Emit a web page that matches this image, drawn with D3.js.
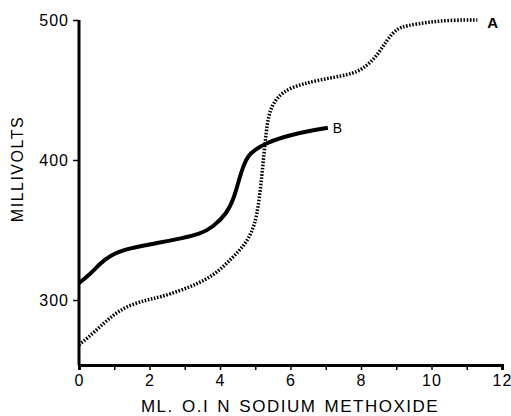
<!DOCTYPE html>
<html>
<head>
<meta charset="UTF-8">
<script src="https://cdn.jsdelivr.net/npm/d3@7"></script>
<style>
body {margin: 0; background: #fff;}
text {font-family: "Liberation Sans", Arial, sans-serif; fill: #000;}
</style>
</head>
<body>
<div id="chart"></div>
<script>
// titration curves (ml 0.1 N NaOMe vs millivolts)
var mlA = [0, 0.25, 0.6, 1.0, 1.4, 1.9, 2.3, 2.9, 3.4, 3.9, 4.34, 4.66, 4.9, 5.05, 5.15, 5.22, 5.28, 5.34, 5.42, 5.62, 6.0, 6.75, 7.7, 8.06, 8.45, 8.74, 9.02, 9.3, 9.9, 10.6, 11.3];
var mvA = [268, 273, 281, 290, 296, 300, 302, 307, 312, 319, 330, 338, 348, 360, 380, 397, 413, 426, 436, 445, 452, 457, 461, 465, 474, 486, 494, 496, 498.5, 500, 500];
var mlB = [0, 0.3, 0.6, 0.88, 1.4, 2.3, 2.9, 3.43, 3.8, 4.2, 4.4, 4.55, 4.68, 4.8, 4.98, 5.28, 6.0, 6.6, 7.06];
var mvB = [312, 318, 326, 332, 337, 341, 344, 347, 352, 362, 373, 387, 397, 403, 407, 412, 418, 421, 423];
var xTicks = [0, 2, 4, 6, 8, 10, 12];
var xMinor = [1, 3, 5, 7, 9, 11];
var yTicks = [300, 400, 500];

var w = 511, h = 416;
var svg = d3.select("#chart").append("svg")
  .attr("width", w).attr("height", h);

var x = d3.scaleLinear().domain([0, 12]).range([79, 502]);
var y = d3.scaleLinear().domain([300, 500]).range([300, 20]);
var yBottom = 365;

var line = d3.line()
  .x(function(d) { return x(d[0]); })
  .y(function(d) { return y(d[1]); })
  .curve(d3.curveBasis);

// curve A, dotted
svg.append("path")
  .datum(d3.zip(mlA, mvA))
  .attr("d", line)
  .attr("fill", "none")
  .attr("stroke", "#000")
  .attr("stroke-width", 3.5)
  .attr("stroke-dasharray", "1.6,1.6");

// curve B, solid heavy
svg.append("path")
  .datum(d3.zip(mlB, mvB))
  .attr("d", line)
  .attr("fill", "none")
  .attr("stroke", "#000")
  .attr("stroke-width", 4);

// axes
var xAxis = svg.append("g")
  .attr("transform", "translate(0," + yBottom + ")")
  .call(d3.axisBottom(x).tickValues(xTicks).tickSize(5).tickPadding(5));
svg.append("g")
  .attr("transform", "translate(0," + yBottom + ")")
  .call(d3.axisBottom(x).tickValues(xMinor).tickSize(5).tickFormat(""))
  .select(".domain").remove();
var yAxis = svg.append("g")
  .attr("transform", "translate(" + x(0) + ",0)")
  .call(d3.axisLeft(y).tickValues(yTicks).tickSize(6).tickPadding(4));
yAxis.select(".domain").attr("d", "M0," + y(500) + "V" + yBottom);

svg.selectAll(".domain").attr("stroke-width", 3);
svg.selectAll(".tick line").attr("stroke-width", 1.5);
svg.selectAll(".tick text")
  .style("font-size", "16px")
  .style("letter-spacing", "1px")
  .style("font-family", '"Liberation Sans", Arial, sans-serif');

// axis titles
svg.append("text")
  .attr("transform", "translate(23,169) rotate(-90)")
  .attr("text-anchor", "middle")
  .style("font-size", "16px")
  .style("letter-spacing", "1.5px")
  .text("MILLIVOLTS");
svg.append("text")
  .attr("x", 290).attr("y", 412)
  .attr("text-anchor", "middle")
  .style("font-size", "17px")
  .style("letter-spacing", "1.5px")
  .style("word-spacing", "2px")
  .text("ML.  O.I N  SODIUM METHOXIDE");

// curve labels
svg.append("text")
  .attr("x", x(11.3) + 10).attr("y", y(500) + 8)
  .style("font-size", "15px").style("font-weight", "bold")
  .text("A");
svg.append("text")
  .attr("x", x(7.06) + 5).attr("y", y(423) + 5)
  .style("font-size", "14px")
  .text("B");
</script>
</body>
</html>
